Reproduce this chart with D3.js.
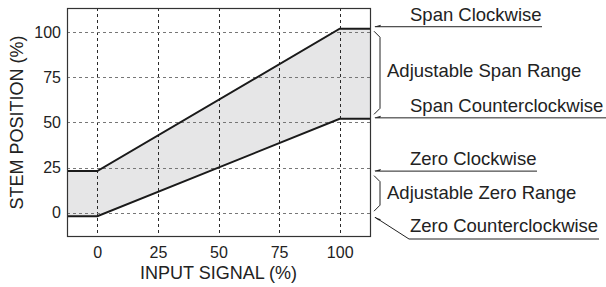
<!DOCTYPE html>
<html>
<head>
<meta charset="utf-8">
<script src="https://cdn.jsdelivr.net/npm/d3@7"></script>
<style>
  body { margin: 0; background: #fff; }
  text { font-family: "Liberation Sans", Arial, sans-serif; fill: #222; }
</style>
</head>
<body>
<div id="chart-container"></div>
<script>
// input signal (%) at the kinks of the two limit lines
var inputSignal = [-12.5, 0, 100, 112.5];
// stem position (%) for the clockwise / counterclockwise limits
var upperLimit = [23, 23, 102, 102];
var lowerLimit = [-2, -2, 52, 52];
var xTicks = [0, 25, 50, 75, 100];
var yTicks = [0, 25, 50, 75, 100];

var w = 606, h = 287;
var pLeft = 67, pRight = 370, pTop = 8, pBottom = 236;

var svg = d3.select("#chart-container").append("svg")
    .attr("width", w).attr("height", h);

var xScale = d3.scaleLinear().domain([-12.5, 112.5]).range([pLeft, pRight]);
var yScale = d3.scaleLinear().domain([-13, 113.5]).range([pBottom, pTop]);

var rows = inputSignal.map(function(x, i){
    return {x: x, hi: upperLimit[i], lo: lowerLimit[i]};
});

//Shaded band between the two limits
var area = d3.area()
    .x(function(d){ return xScale(d.x); })
    .y0(function(d){ return yScale(d.lo); })
    .y1(function(d){ return yScale(d.hi); });

svg.append("path")
    .datum(rows)
    .attr("d", area)
    .attr("fill", "#e6e6e7");

//Grid lines
svg.append("g").selectAll("line")
    .data(xTicks).enter().append("line")
    .attr("x1", function(d){ return Math.round(xScale(d)) + 0.5; })
    .attr("x2", function(d){ return Math.round(xScale(d)) + 0.5; })
    .attr("y1", pTop).attr("y2", pBottom)
    .attr("stroke", "#2a2a2a")
    .attr("stroke-dasharray", "3,3");

svg.append("g").selectAll("line")
    .data(yTicks).enter().append("line")
    .attr("y1", function(d){ return Math.round(yScale(d)) + 0.5; })
    .attr("y2", function(d){ return Math.round(yScale(d)) + 0.5; })
    .attr("x1", pLeft).attr("x2", pRight)
    .attr("stroke", "#777")
    .attr("stroke-dasharray", "3,3");

//Limit lines
["hi", "lo"].forEach(function(k){
    var line = d3.line()
        .x(function(d){ return xScale(d.x); })
        .y(function(d){ return yScale(d[k]); });
    svg.append("path")
        .datum(rows)
        .attr("d", line)
        .attr("fill", "none")
        .attr("stroke", "#1a1a1a")
        .attr("stroke-width", 2);
});

//Frame
svg.append("rect")
    .attr("x", pLeft + 0.5).attr("y", pTop + 0.5)
    .attr("width", pRight - pLeft).attr("height", pBottom - pTop)
    .attr("fill", "none")
    .attr("stroke", "#333")
    .attr("stroke-width", 1.2);

//Axes
var xAxis = d3.axisBottom(xScale).tickValues(xTicks).tickSize(0).tickPadding(11);
var yAxis = d3.axisLeft(yScale).tickValues(yTicks).tickSize(0).tickPadding(6);

var gx = svg.append("g")
    .attr("transform", "translate(0," + pBottom + ")")
    .call(xAxis);
var gy = svg.append("g")
    .attr("transform", "translate(" + pLeft + ",0)")
    .call(yAxis);
[gx, gy].forEach(function(g){
    g.select(".domain").remove();
    g.selectAll("text")
        .style("font-family", "'Liberation Sans', Arial, sans-serif")
        .style("font-size", "16px")
        .attr("fill", "#222");
});

svg.append("text")
    .attr("x", xScale(50)).attr("y", 279)
    .attr("text-anchor", "middle")
    .style("font-size", "18px")
    .text("INPUT SIGNAL (%)");

svg.append("text")
    .attr("transform", "translate(23," + yScale(50) + ") rotate(-90)")
    .attr("text-anchor", "middle")
    .style("font-size", "18px")
    .text("STEM POSITION (%)");

//Annotations on the right
var ann = svg.append("g")
    .attr("stroke", "#222")
    .attr("fill", "none")
    .attr("stroke-width", 1);

function arrowHead(x, y, angle){
    ann.append("path")
        .attr("d", "M0,0 L7,-2 L6,0 Z")
        .attr("fill", "#222")
        .attr("stroke", "none")
        .attr("transform", "translate(" + x + "," + y + ") rotate(" + angle + ")");
}

function bracket(y0, y1){
    var path = d3.path();
    path.moveTo(374, y0);
    path.lineTo(380, y0 + 6);
    path.lineTo(380, y1 - 6);
    path.lineTo(374, y1);
    ann.append("path").attr("d", path.toString());
}

var spanTop = yScale(upperLimit[3]) - 2;
var spanBot = yScale(lowerLimit[3]) - 1;
var zeroTop = yScale(upperLimit[0]);
var zeroBot = yScale(lowerLimit[0]) + 1;

// span clockwise
ann.append("line").attr("x1", 375).attr("x2", 542).attr("y1", spanTop).attr("y2", spanTop);
arrowHead(374, spanTop, 0);
// span counterclockwise
ann.append("line").attr("x1", 375).attr("x2", 606).attr("y1", spanBot).attr("y2", spanBot);
arrowHead(374, spanBot, 0);
bracket(spanTop + 4.5, spanBot - 3.5);

// zero clockwise
ann.append("line").attr("x1", 375).attr("x2", 537).attr("y1", zeroTop).attr("y2", zeroTop);
arrowHead(374, zeroTop, 0);
// zero counterclockwise
ann.append("polyline")
    .attr("points", "375," + zeroBot + " 409,239 599,239");
arrowHead(374, zeroBot, Math.atan2(239 - zeroBot, 34) * 180 / Math.PI);
bracket(zeroTop + 4.5, zeroBot - 6);

var labels = [
    {t: "Span Clockwise", x: 410, y: 21},
    {t: "Adjustable Span Range", x: 387, y: 76.5},
    {t: "Span Counterclockwise", x: 410, y: 111.5},
    {t: "Zero Clockwise", x: 410, y: 165},
    {t: "Adjustable Zero Range", x: 387, y: 199},
    {t: "Zero Counterclockwise", x: 410, y: 232}
];
svg.append("g").selectAll("text")
    .data(labels).enter().append("text")
    .attr("x", function(d){ return d.x; })
    .attr("y", function(d){ return d.y; })
    .style("font-size", "18.5px")
    .text(function(d){ return d.t; });
</script>
</body>
</html>
